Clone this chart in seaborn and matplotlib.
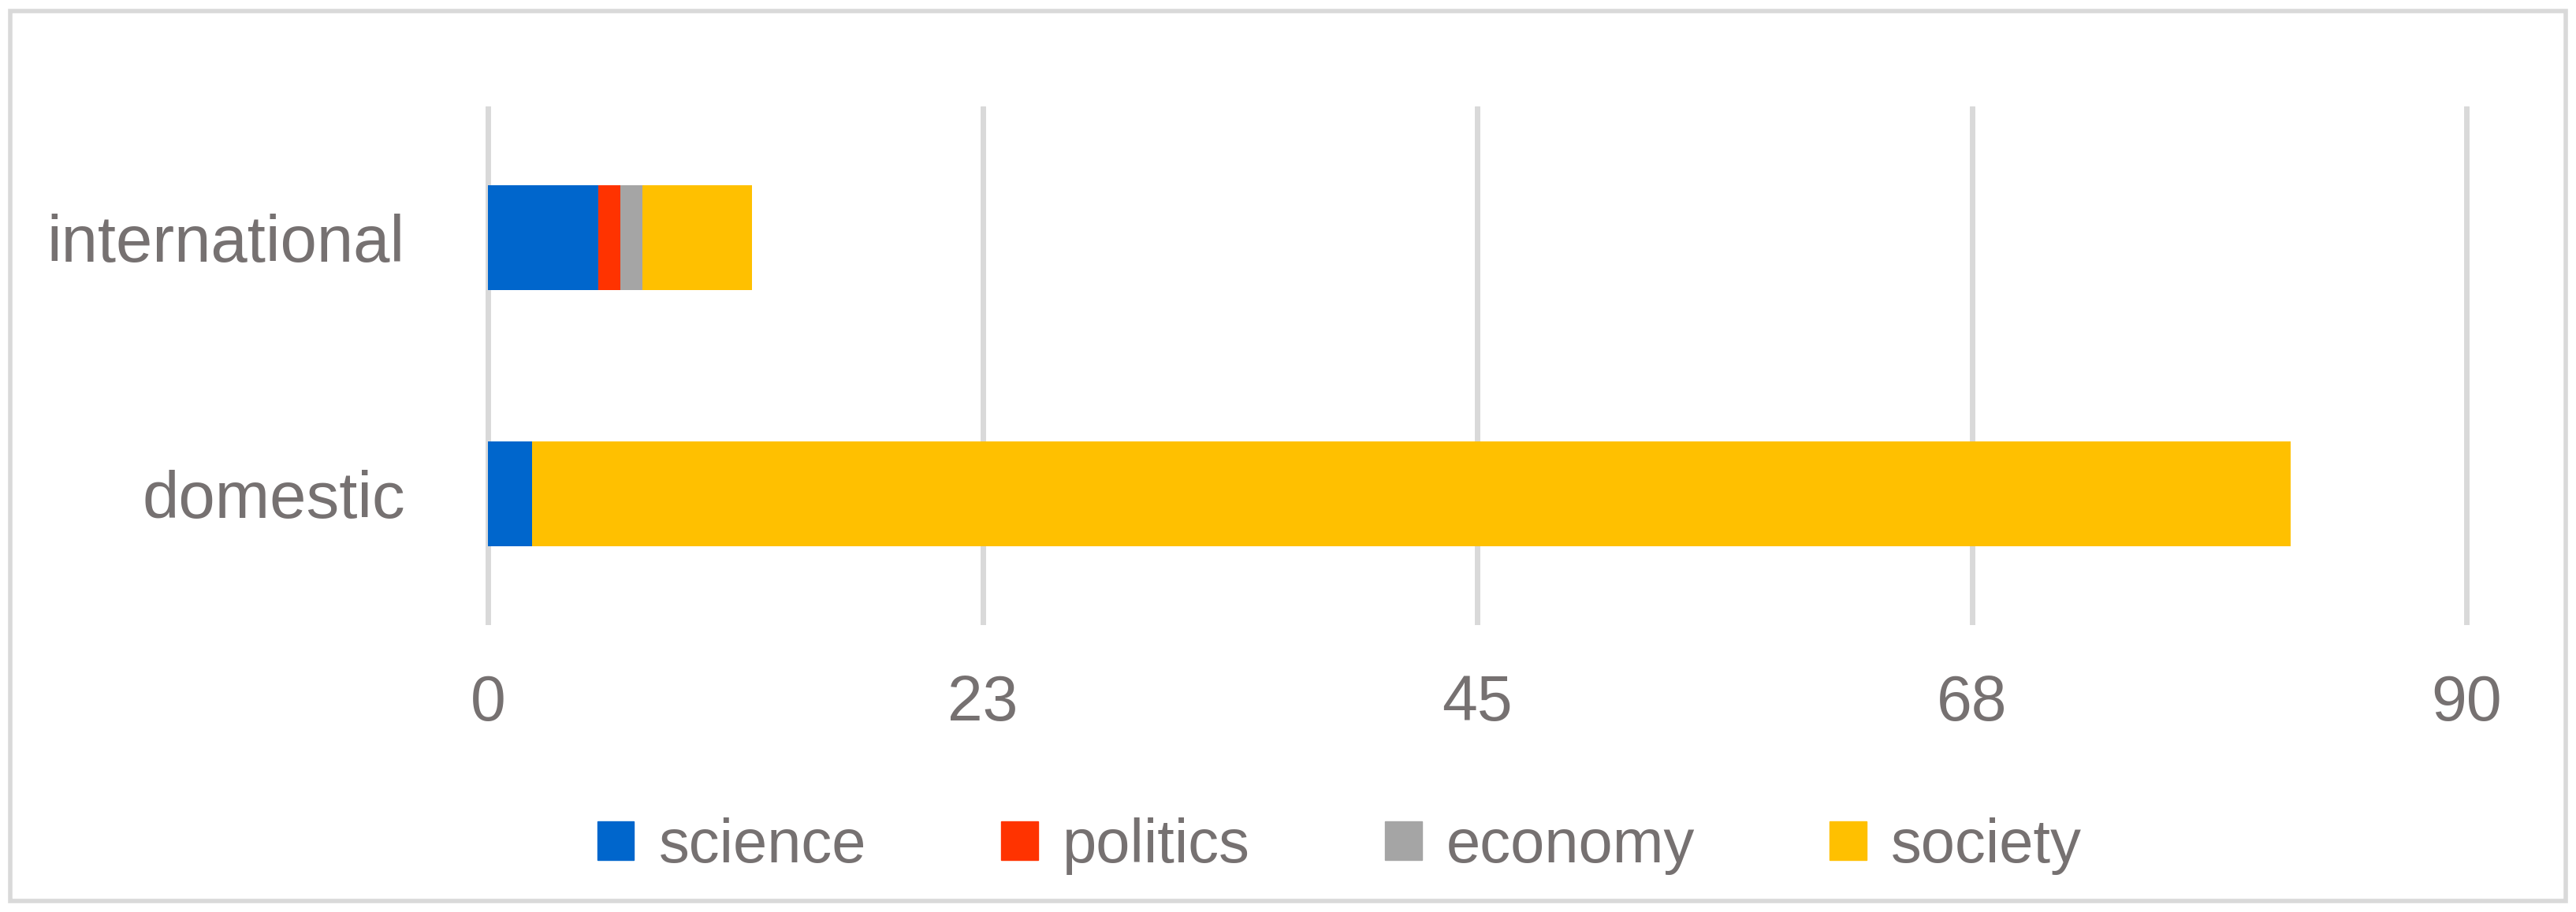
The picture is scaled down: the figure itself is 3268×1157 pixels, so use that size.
import numpy as np
import pandas as pd
import matplotlib
matplotlib.use("Agg")
import matplotlib.pyplot as plt
import seaborn as sns
from matplotlib.patches import Rectangle, Patch

categories = ["international", "domestic"]
series = ["science", "politics", "economy", "society"]
science = [5, 2]
politics = [1, 0]
economy = [1, 0]
society = [5, 80]
colors = ["#0066CC", "#FF3300", "#A5A5A5", "#FFC000"]
tick_vals = [0, 22.5, 45, 67.5, 90]
tick_labels = ["0", "23", "45", "68", "90"]

sns.set_theme(style="white")
plt.rcParams["font.family"] = ["Liberation Sans", "DejaVu Sans"]
txt = "#767171"

fig = plt.figure(figsize=(32.68, 11.57), dpi=100)
ax = fig.add_axes([0.187, 0.315, 0.773, 0.568])

vals = np.array([science, politics, economy, society], dtype=float)
cum = np.cumsum(vals, axis=0)
for i in range(len(series) - 1, -1, -1):
    df = pd.DataFrame({"cat": categories, "v": cum[i]})
    sns.barplot(data=df, y="cat", x="v", orient="h", color=colors[i],
                saturation=1, width=0.41, ax=ax, linewidth=0)

ax.set_xlim(0, 90)
ax.set_ylim(1.51, -0.51)
ax.set_xticks(tick_vals)
ax.set_xticklabels(tick_labels)
ax.set_xlabel("")
ax.set_ylabel("")
for v in tick_vals:
    ax.axvline(v, color="#D9D9D9", lw=5, zorder=0)
ax.set_axisbelow(True)
for s in ax.spines.values():
    s.set_visible(False)
ax.tick_params(axis="x", labelsize=58, colors=txt, length=0, pad=45)
ax.tick_params(axis="y", labelsize=60, colors=txt, length=0, pad=70)
ax.set_xlim(-0.3, 90.3)

handles = [Patch(color=c, label=s) for c, s in zip(colors, series)]
fig.legend(handles=handles, loc="center", bbox_to_anchor=(0.52, 0.072), ncol=4,
           frameon=False, fontsize=56, labelcolor=txt, handlelength=0.6,
           handleheight=0.6, handletextpad=0.4, columnspacing=2.2)

fig.patches.append(Rectangle((0.004, 0.012), 0.992, 0.976, transform=fig.transFigure,
                             fill=False, edgecolor="#D9D9D9", lw=4))
fig.savefig("out.png", dpi=100)
